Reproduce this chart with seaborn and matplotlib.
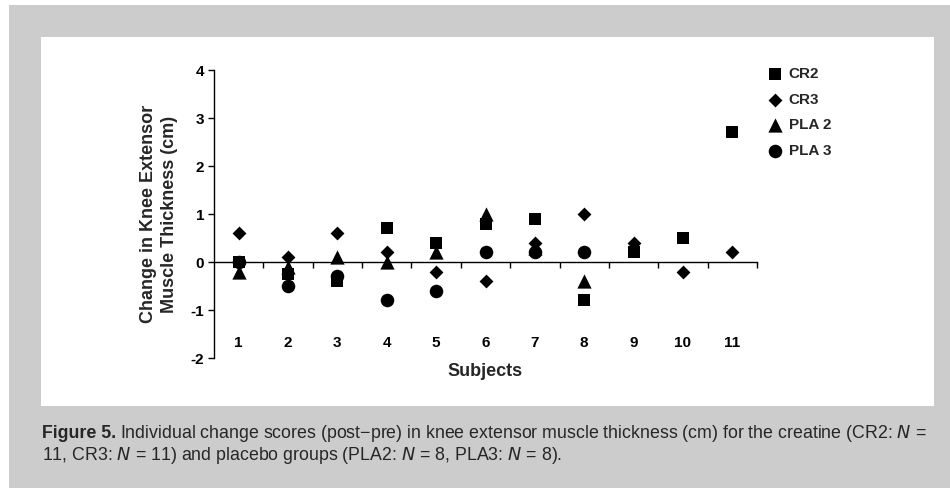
import matplotlib
matplotlib.use("Agg")
import matplotlib.pyplot as plt
from matplotlib.patches import Rectangle
from matplotlib.ticker import FixedLocator
import seaborn as sns
import pandas as pd

# ---- data ----
subjects = [1, 2, 3, 4, 5, 6, 7, 8, 9, 10, 11]
cr2 = [0.0, -0.25, -0.4, 0.7, 0.4, 0.8, 0.9, -0.8, 0.2, 0.5, 2.7]
cr3 = [0.6, 0.1, 0.6, 0.2, -0.2, -0.4, 0.4, 1.0, 0.4, -0.2, 0.2]
pla_subjects = [1, 2, 3, 4, 5, 6, 7, 8]
pla2 = [-0.2, -0.1, 0.1, 0.0, 0.2, 1.0, 0.3, -0.4]
pla3 = [0.0, -0.5, -0.3, -0.8, -0.6, 0.2, 0.2, 0.2]
y_ticks = [-2, -1, 0, 1, 2, 3, 4]

groups = [
    ("CR2", subjects, cr2, "s", 85),
    ("CR3", subjects, cr3, "D", 50),
    ("PLA 2", pla_subjects, pla2, "^", 105),
    ("PLA 3", pla_subjects, pla3, "o", 95),
]

sns.set_style("white")
plt.rcParams["font.family"] = ["Liberation Sans", "DejaVu Sans"]

W, H = 950, 488
fig = plt.figure(figsize=(9.5, 4.88), dpi=100)
fig.patch.set_facecolor("white")

# grey frame and white panel
fig.patches.append(Rectangle((9 / W, 0), 1 - 9 / W, 1 - 5 / H, transform=fig.transFigure,
                             facecolor="#cccccc", edgecolor="none", zorder=-10))
fig.patches.append(Rectangle((41 / W, 1 - 406 / H), (934 - 41) / W, (406 - 37) / H,
                             transform=fig.transFigure, facecolor="white",
                             edgecolor="none", zorder=-9))

ax = fig.add_axes([214 / W, 1 - 358 / H, (757 - 214) / W, (358 - 70) / H])
ax.set_facecolor("none")

for name, xs, ys, mk, s in groups:
    df = pd.DataFrame({"Subject": xs, "Change": ys})
    sns.scatterplot(data=df, x="Subject", y="Change", marker=mk, s=s, color="black",
                    edgecolor="black", linewidth=0, ax=ax, label=name, zorder=3)

# spines first (set_position resets ticks)
for side in ["top", "right"]:
    ax.spines[side].set_visible(False)
ax.spines["bottom"].set_position(("data", 0))
ax.spines["bottom"].set_color("black")
ax.spines["bottom"].set_linewidth(1)
ax.spines["left"].set_color("black")
ax.spines["left"].set_linewidth(1)

ax.set_xlim(0.5, 11.5)
ax.set_ylim(-2, 4)
ax.set_yticks(y_ticks, labels=[str(t) for t in y_ticks])
ax.set_xticks(subjects, labels=[str(s) for s in subjects])
ax.xaxis.set_minor_locator(FixedLocator([x + 0.5 for x in subjects]))
ax.xaxis.set_ticks_position("bottom")
ax.yaxis.set_ticks_position("left")
ax.tick_params(axis="x", which="major", length=0, pad=53)
ax.tick_params(axis="x", which="minor", length=4.5, width=1, direction="out", color="black")
ax.tick_params(axis="y", which="major", length=4, width=1, direction="out", color="black", pad=3)

ax.set_xlabel("Subjects", fontsize=13, fontweight="bold")
ax.xaxis.set_label_coords(0.5, -0.018)
ax.set_ylabel("Change in Knee Extensor\nMuscle Thickness (cm)", fontsize=13,
              fontweight="bold", linespacing=1.3)
ax.yaxis.set_label_coords(-0.067, 0.5)

leg = ax.legend(loc="upper left", bbox_to_anchor=(1.005, 1.03), frameon=False,
                prop={"weight": "bold", "size": 11}, handletextpad=0.3,
                labelspacing=0.75, borderaxespad=0, handlelength=1.2)

for lab in ax.get_xticklabels() + ax.get_yticklabels():
    lab.set_fontweight("bold")
    lab.set_fontsize(11)
    lab.set_color("black")

# caption
cap_size = 12.8
t1 = fig.text(42 / W, 1 - 433 / H, "Figure 5.", fontsize=cap_size, fontweight="bold",
              va="center", ha="left")
renderer = fig.canvas.get_renderer()
bb = t1.get_window_extent(renderer=renderer)
fig.text((bb.x1 + 4) / W, 1 - 433 / H,
         "Individual change scores (post\u2212pre) in knee extensor muscle thickness (cm) for the creatine (CR2: $N$ =",
         fontsize=cap_size, va="center", ha="left")
fig.text(42 / W, 1 - 455 / H,
         "11, CR3: $N$ = 11) and placebo groups (PLA2: $N$ = 8, PLA3: $N$ = 8).",
         fontsize=cap_size, va="center", ha="left")

fig.savefig("out.png", dpi=100)
